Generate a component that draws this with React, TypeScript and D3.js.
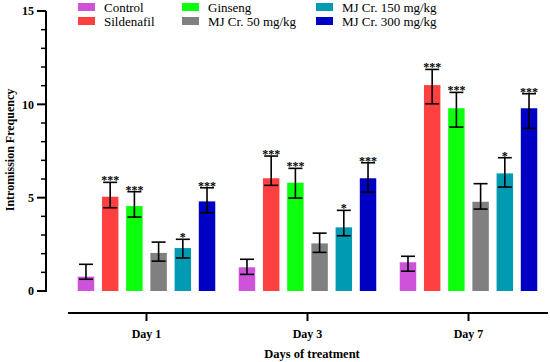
import * as d3 from 'd3';

const days = ['Day 1', 'Day 3', 'Day 7'];
const groups = ['Control', 'Sildenafil', 'Ginseng', 'MJ Cr. 50 mg/kg', 'MJ Cr. 150 mg/kg', 'MJ Cr. 300 mg/kg'];
const colors = ['#CF52DA', '#FF4040', '#0CFF0C', '#808080', '#009BB2', '#0000C4'];

// bar heights per group, one value for each day
const means = [
  [0.77, 1.27, 1.54],
  [5.05, 6.04, 11.03],
  [4.55, 5.8, 9.79],
  [2.04, 2.55, 4.78],
  [2.3, 3.41, 6.3],
  [4.8, 6.04, 9.79],
];
// error bar ends
const upper = [
  [1.43, 1.7, 1.86],
  [5.82, 7.23, 11.87],
  [5.32, 6.57, 10.64],
  [2.62, 3.1, 5.75],
  [2.77, 4.32, 7.14],
  [5.53, 6.87, 10.57],
];
const lower = [
  [0.63, 0.89, 1.06],
  [4.46, 5.66, 10.03],
  [3.96, 4.98, 8.78],
  [1.6, 2.07, 4.39],
  [1.77, 2.96, 5.57],
  [4.19, 5.29, 8.71],
];
const stars = ['', '***', '***', '', '*', '***'];
const yTicks = [0, 5, 10, 15];

const W = 550;
const H = 362;
const font = '"Liberation Serif", "Times New Roman", serif';

export default function App() {
  const y = d3.scaleLinear().domain([0, 15]).range([291, 11]);
  const x0 = d3.scaleBand().domain(days).range([66, 549]);
  const x1 = d3.scaleBand<number>()
    .domain(d3.range(groups.length))
    .range([0, x0.bandwidth()])
    .paddingInner(0.32)
    .paddingOuter(0.485);

  const axisX = 46;
  const capW = 14;

  // legend layout: 3 columns x 2 rows
  const legCols = [78, 182, 316];
  const legRows = [7, 21];

  return (
    <svg width={W} height={H} style={{ position: 'absolute', left: 0, top: 0, background: '#fff' }}
      fontFamily={font}>
      {/* y axis */}
      <line x1={axisX} x2={axisX} y1={y(15)} y2={y(0) + 1} stroke="#000" strokeWidth={2} />
      {d3.range(0, 16).map((t) => {
        const major = t % 5 === 0;
        return (
          <line key={'t' + t} x1={major ? axisX - 9 : axisX - 5} x2={axisX} y1={y(t)} y2={y(t)}
            stroke="#000" strokeWidth={major ? 2 : 1.5} />
        );
      })}
      {yTicks.map((t) => (
        <text key={'yl' + t} x={axisX - 12} y={y(t)} dy="0.35em" textAnchor="end"
          fontSize={12} fontWeight="bold">{t}</text>
      ))}
      <text transform={`translate(10,150) rotate(-90)`} textAnchor="middle" dy="0.35em"
        fontSize={12} fontWeight="bold">Intromission Frequency</text>

      {/* x axis */}
      <line x1={68} x2={548} y1={313} y2={313} stroke="#000" strokeWidth={2} />
      {days.map((d) => {
        const cx = (x0(d) ?? 0) + x0.bandwidth() / 2;
        return (
          <g key={'x' + d}>
            <line x1={cx} x2={cx} y1={313} y2={321} stroke="#000" strokeWidth={2} />
            <text x={cx} y={338} textAnchor="middle" fontSize={12} fontWeight="bold">{d}</text>
          </g>
        );
      })}
      <text x={312} y={358} textAnchor="middle" fontSize={12.5} fontWeight="bold">Days of treatment</text>

      {/* bars */}
      {days.map((d, di) => (
        <g key={'g' + d} transform={`translate(${x0(d)},0)`}>
          {groups.map((g, gi) => {
            const bx = x1(gi) ?? 0;
            const bw = x1.bandwidth();
            const cx = bx + bw / 2;
            const v = means[gi][di];
            const hi = y(upper[gi][di]);
            const lo = y(lower[gi][di]);
            return (
              <g key={g}>
                <rect x={bx} y={y(v)} width={bw} height={y(0) - y(v)} fill={colors[gi]} />
                <line x1={cx} x2={cx} y1={hi} y2={lo} stroke="#000" strokeWidth={1.6} />
                <line x1={cx - capW / 2} x2={cx + capW / 2} y1={hi} y2={hi} stroke="#000" strokeWidth={1.6} />
                <line x1={cx - capW / 2} x2={cx + capW / 2} y1={lo} y2={lo} stroke="#000" strokeWidth={1.6} />
                {stars[gi] && (
                  <text x={cx} y={hi + 2} textAnchor="middle" fontSize={12} fontWeight="bold"
                    fill="#000">{stars[gi]}</text>
                )}
              </g>
            );
          })}
        </g>
      ))}

      {/* legend */}
      {groups.map((g, i) => {
        const col = Math.floor(i / 2);
        const row = i % 2;
        const lx = legCols[col];
        const ly = legRows[row];
        return (
          <g key={'leg' + g}>
            <rect x={lx} y={ly - 4} width={17} height={8} fill={colors[i]} />
            <text x={lx + 26} y={ly} dy="0.35em" fontSize={13}>{g}</text>
          </g>
        );
      })}
    </svg>
  );
}
